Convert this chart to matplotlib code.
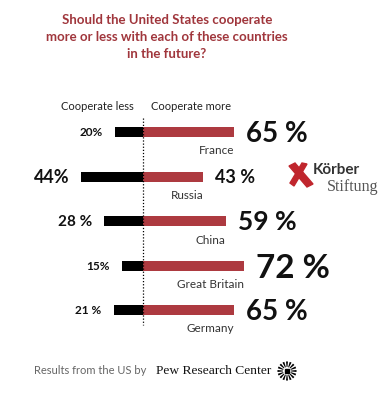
"""
Should the US cooperate more or less with ... (Koerber / Pew chart)
"""

import numpy as np
import matplotlib.pyplot as plt
from matplotlib.patches import Polygon, Wedge, Rectangle

# data
countries = ['France', 'Russia', 'China', 'Great Britain', 'Germany']
less = [20, 44, 28, 15, 21]
more = [65, 43, 59, 72, 65]
less_labels = ['20%', '44%', '28 %', '15%', '21 %']
more_labels = ['65 %', '43 %', '59 %', '72 %', '65 %']

# styles
less_sizes = [8.5, 13, 11, 8.5, 8.5]
more_sizes = [20, 13, 19, 24, 20]
RED = '#ad3a40'
TITLE_RED = '#a0363c'
FONT = ['Lato', 'DejaVu Sans']

W, H = 391, 418
PX_PER_PCT = 1.4
ZERO_X = 143
ROW0_Y = 132
ROW_STEP = 44.5


def fx(x):
    return x / W


def fy(y):
    return 1 - y / H


plt.rcParams['font.family'] = FONT

fig = plt.figure(figsize=(W / 100, H / 100), dpi=100)
fig.patch.set_facecolor('white')

ax = fig.add_axes([0, 0, 1, 1])
ax.set_xlim(-ZERO_X / PX_PER_PCT, (W - ZERO_X) / PX_PER_PCT)
ax.set_ylim((H - ROW0_Y) / ROW_STEP, -ROW0_Y / ROW_STEP)
ax.axis('off')

y = np.arange(len(countries))
bar_h = 10 / ROW_STEP
gap = 12 / PX_PER_PCT

ax.barh(y, [-v for v in less], height=bar_h, color='black')
ax.barh(y, more, height=bar_h, color=RED)

# dotted zero line
ax.vlines(0, (118 - ROW0_Y) / ROW_STEP, (325 - ROW0_Y) / ROW_STEP,
          colors='black', linestyles=(0, (1, 1.5)), linewidth=0.9)

for i in range(len(countries)):
    fs = less_sizes[i]
    ax.text(-less[i] - gap, i + fs * 0.5 / ROW_STEP, less_labels[i],
            ha='right', va='baseline', fontsize=fs, fontweight='bold',
            color='#111111')
    fs = more_sizes[i]
    ax.text(more[i] + gap, i + fs * 0.5 / ROW_STEP, more_labels[i],
            ha='left', va='baseline', fontsize=fs, fontweight='bold',
            color='#111111')
    ax.text(more[i], i + 19 / ROW_STEP, countries[i], ha='right',
            va='center', fontsize=8.5, color='#333333')

# title
fig.text(fx(167), fy(37), 'Should the United States cooperate\n'
         'more or less with each of these countries\nin the future?',
         ha='center', va='center', fontsize=9.5, fontweight='bold',
         color=TITLE_RED, linespacing=1.5, multialignment='center')

# column headers
fig.text(fx(134), fy(107), 'Cooperate less', ha='right', va='center',
         fontsize=8, color='#222222')
fig.text(fx(151), fy(107), 'Cooperate more', ha='left', va='center',
         fontsize=8, color='#222222')

# Koerber logo
fig.patches.append(Polygon([(fx(289), fy(166)), (fx(295), fy(163)),
                            (fx(313), fy(184)), (fx(307), fy(187))],
                           closed=True, color='#c0262d',
                           transform=fig.transFigure))
fig.patches.append(Polygon([(fx(302), fy(163)), (fx(307), fy(164)),
                            (fx(294), fy(186)), (fx(290), fy(183))],
                           closed=True, color='#c0262d',
                           transform=fig.transFigure))
fig.text(fx(313), fy(170), 'Körber', ha='left', va='center', fontsize=11,
         fontweight='bold', color='#333333')
fig.text(fx(327), fy(187), 'Stiftung', ha='left', va='center', fontsize=11.5,
         color='#555555', family=['Liberation Serif', 'DejaVu Serif'])

# footer
fig.text(fx(34), fy(371), 'Results from the US by', ha='left', va='center',
         fontsize=8, color='#666666')
fig.text(fx(156), fy(371), 'Pew Research Center', ha='left', va='center',
         fontsize=9.7, color='#111111',
         family=['Liberation Serif', 'DejaVu Serif'])

sun = fig.add_axes([fx(277), fy(381), 20 / W, 20 / H])
sun.set_xlim(-1.05, 1.05)
sun.set_ylim(-1.05, 1.05)
sun.set_aspect('equal')
sun.axis('off')
for a in np.arange(0, 360, 22.5):
    sun.add_patch(Wedge((0, 0), 1.0, a - 6, a + 6, width=0.58,
                        color='black', linewidth=0))
sun.add_patch(Rectangle((-0.22, -0.22), 0.44, 0.44, color='black'))

fig.savefig('out.png', dpi=100, facecolor='white')
